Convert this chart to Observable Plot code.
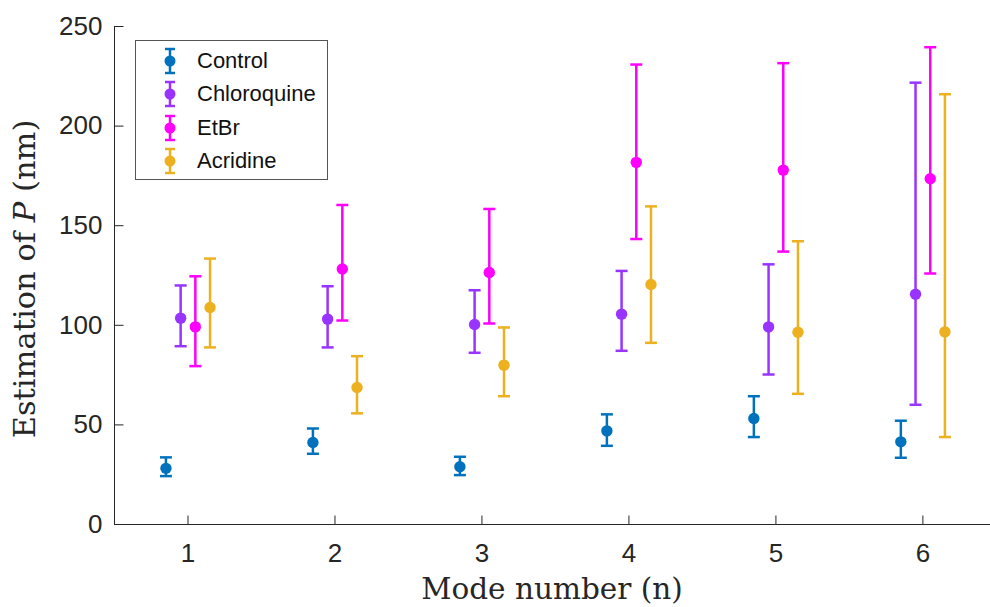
<!DOCTYPE html>
<html>
<head>
<meta charset="utf-8">
<script src="https://cdn.jsdelivr.net/npm/d3@7"></script>
<script src="https://cdn.jsdelivr.net/npm/@observablehq/plot@0.6"></script>
<style>
  html, body { margin: 0; padding: 0; background: #fff; }
  #wrap { position: relative; width: 990px; height: 607px; overflow: hidden; }
  #wrap > svg { position: absolute; left: 0; top: 0; }
  .axlab { position: absolute; font-family: "DejaVu Serif", serif; color: #262626; white-space: nowrap; }
  #xlab { left: 552px; top: 589px; font-size: 29.5px; line-height: 30px; transform: translate(-50%, -50%); }
  #ylab { left: 24.5px; top: 278.5px; font-size: 30.5px; line-height: 30.5px; transform: translate(-50%, -50%) rotate(-90deg); }
  #legend { position: absolute; left: 135px; top: 40px; width: 193px; height: 140px; border: 1px solid #555; background: #fff; box-sizing: border-box; font-family: "Liberation Sans", Arial, sans-serif; font-size: 22px; color: #111; }
  .lrow { position: absolute; left: 0; height: 30px; display: flex; align-items: center; }
  .lrow svg { display: block; margin-left: 23px; }
  .lrow span { margin-left: 16px; }
</style>
</head>
<body>
<div id="wrap"></div>
<script>
// ---- data ----
const modes = [1, 2, 3, 4, 5, 6];
const seriesNames = ["Control", "Chloroquine", "EtBr", "Acridine"];

const controlMean = [28.2, 41.2, 29.0, 47.0, 53.2, 41.5];
const controlLow  = [24.3, 35.5, 24.8, 39.5, 43.9, 33.5];
const controlHigh = [33.7, 48.2, 34.0, 55.3, 64.4, 52.1];

const chloroquineMean = [103.6, 103.1, 100.4, 105.6, 99.2, 115.6];
const chloroquineLow  = [89.5, 88.9, 86.2, 87.2, 75.3, 60.1];
const chloroquineHigh = [120.0, 119.6, 117.6, 127.3, 130.6, 221.8];

const etbrMean = [99.2, 128.3, 126.5, 181.8, 177.9, 173.6];
const etbrLow  = [79.5, 102.4, 100.9, 143.3, 137.0, 126.0];
const etbrHigh = [124.6, 160.4, 158.4, 230.9, 231.6, 239.6];

const acridineMean = [108.9, 68.8, 80.0, 120.5, 96.5, 96.7];
const acridineLow  = [88.9, 55.8, 64.4, 91.2, 65.6, 43.9];
const acridineHigh = [133.5, 84.5, 98.9, 159.7, 142.2, 216.0];

const xTicks = [1, 2, 3, 4, 5, 6];
const yTicks = [0, 50, 100, 150, 200, 250];

// ---- build table ----
const seriesData = [
  {name: seriesNames[0], mean: controlMean, low: controlLow, high: controlHigh},
  {name: seriesNames[1], mean: chloroquineMean, low: chloroquineLow, high: chloroquineHigh},
  {name: seriesNames[2], mean: etbrMean, low: etbrLow, high: etbrHigh},
  {name: seriesNames[3], mean: acridineMean, low: acridineLow, high: acridineHigh}
];
const rows = [];
seriesData.forEach((s, i) => {
  modes.forEach((m, j) => {
    rows.push({series: s.name, mode: m, xpos: m + (i - 1.5) * 0.1, mean: s.mean[j], low: s.low[j], high: s.high[j]});
  });
});

const colors = ["#0072BD", "#9933FF", "#FF00FF", "#EDB120"];
const axisColor = "#262626";

// custom symbols
const capSymbol = {draw(ctx, size) { const r = Math.sqrt(size / Math.PI); ctx.moveTo(-r, 0); ctx.lineTo(r, 0); }};
const xTickSymbol = {draw(ctx) { ctx.moveTo(0, 0); ctx.lineTo(0, -9); }};
const yTickSymbol = {draw(ctx) { ctx.moveTo(0, 0); ctx.lineTo(9, 0); }};

const chart = Plot.plot({
  width: 990,
  height: 607,
  marginLeft: 114,
  marginRight: 0,
  marginTop: 26,
  marginBottom: 83,
  style: {fontFamily: "'Liberation Sans', Arial, sans-serif", fontSize: "26px", color: axisColor, background: "#fff"},
  x: {domain: [0.5, 6.46]},
  y: {domain: [0, 250]},
  color: {domain: seriesNames, range: colors, type: "ordinal"},
  marks: [
    Plot.ruleY([0], {stroke: axisColor, strokeWidth: 1}),
    Plot.ruleX([0.5], {stroke: axisColor, strokeWidth: 1}),
    Plot.dot(xTicks, {x: d => d, y: 0, symbol: xTickSymbol, r: 1, fill: "none", stroke: axisColor, strokeWidth: 1}),
    Plot.dot(yTicks, {x: 0.5, y: d => d, symbol: yTickSymbol, r: 1, fill: "none", stroke: axisColor, strokeWidth: 1}),
    Plot.axisX({ticks: xTicks, tickSize: 0, tickPadding: 19, tickFormat: d => String(d), label: null, fontSize: 26}),
    Plot.axisY({ticks: yTicks, tickSize: 0, tickPadding: 12, tickFormat: d => String(d), label: null, fontSize: 26}),
    Plot.ruleX(rows, {x: "xpos", y1: "low", y2: "high", stroke: "series", strokeWidth: 2.5}),
    Plot.dot(rows, {x: "xpos", y: "high", symbol: capSymbol, r: 6, fill: "none", stroke: "series", strokeWidth: 2.5}),
    Plot.dot(rows, {x: "xpos", y: "low", symbol: capSymbol, r: 6, fill: "none", stroke: "series", strokeWidth: 2.5}),
    Plot.dot(rows, {x: "xpos", y: "mean", r: 5.7, fill: "series", stroke: "none"})
  ]
});

const wrap = document.getElementById("wrap");
wrap.appendChild(chart);

// axis labels
const xl = document.createElement("div");
xl.className = "axlab"; xl.id = "xlab";
xl.textContent = "Mode number (n)";
wrap.appendChild(xl);
const yl = document.createElement("div");
yl.className = "axlab"; yl.id = "ylab";
yl.innerHTML = "Estimation of <i>P</i> (nm)";
wrap.appendChild(yl);

// legend
const legend = document.createElement("div");
legend.id = "legend";
seriesNames.forEach((name, i) => {
  const row = document.createElement("div");
  row.className = "lrow";
  row.style.top = (5 + i * 33.3) + "px";
  const c = colors[i];
  row.innerHTML = `<svg width="22" height="30" viewBox="0 0 22 30">
      <line x1="11" y1="3" x2="11" y2="27" stroke="${c}" stroke-width="2.5"/>
      <line x1="6" y1="3" x2="16" y2="3" stroke="${c}" stroke-width="2.5"/>
      <line x1="6" y1="27" x2="16" y2="27" stroke="${c}" stroke-width="2.5"/>
      <circle cx="11" cy="15" r="5.5" fill="${c}"/>
    </svg><span>${name}</span>`;
  legend.appendChild(row);
});
wrap.appendChild(legend);
</script>
</body>
</html>
